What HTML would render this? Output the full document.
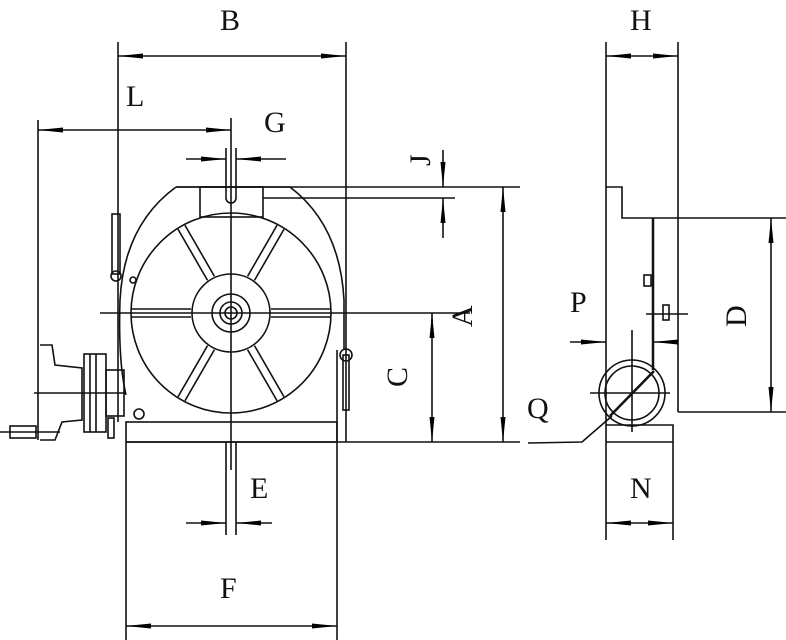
<!DOCTYPE html>
<html><head><style>
html,body{margin:0;padding:0;background:#fff;}
svg{display:block}
text{font-family:"Liberation Serif",serif;font-size:30px;fill:#111;}
</style></head><body>
<svg width="786" height="640" viewBox="0 0 786 640" xmlns="http://www.w3.org/2000/svg">
<defs>
<marker id="a" markerUnits="userSpaceOnUse" markerWidth="26" markerHeight="8" refX="25" refY="4" orient="auto-start-reverse"><path d="M0,1.5 L25,4 L0,6.5 Z" fill="#000"/></marker>
</defs>
<g stroke="#111" stroke-width="1.6" fill="none">
<line x1="118" y1="42" x2="118" y2="422"/>
<line x1="346" y1="42" x2="346" y2="442"/>
<line x1="38" y1="120" x2="38" y2="440"/>
<line x1="231" y1="118" x2="231" y2="470"/>
<line x1="100" y1="313" x2="470" y2="313"/>
<line x1="176" y1="187" x2="520" y2="187"/>
<line x1="263" y1="198" x2="455" y2="198"/>
<line x1="126" y1="442" x2="520" y2="442"/>
<line x1="126" y1="442" x2="126" y2="640"/>
<line x1="337" y1="442" x2="337" y2="640"/>
<line x1="226" y1="442" x2="226" y2="535"/>
<line x1="236" y1="442" x2="236" y2="535"/>
<line x1="118" y1="56" x2="346" y2="56" marker-start="url(#a)" marker-end="url(#a)"/>
<line x1="38" y1="130" x2="231" y2="130" marker-start="url(#a)" marker-end="url(#a)"/>
<line x1="186" y1="159" x2="226" y2="159" marker-end="url(#a)"/>
<line x1="286" y1="159" x2="236" y2="159" marker-end="url(#a)"/>
<line x1="443" y1="150" x2="443" y2="187" marker-end="url(#a)"/>
<line x1="443" y1="238" x2="443" y2="198" marker-end="url(#a)"/>
<line x1="503" y1="187" x2="503" y2="442" marker-start="url(#a)" marker-end="url(#a)"/>
<line x1="432" y1="313" x2="432" y2="442" marker-start="url(#a)" marker-end="url(#a)"/>
<line x1="186" y1="523" x2="226" y2="523" marker-end="url(#a)"/>
<line x1="272" y1="523" x2="236" y2="523" marker-end="url(#a)"/>
<line x1="126" y1="626" x2="337" y2="626" marker-start="url(#a)" marker-end="url(#a)"/>
<path d="M176,187 L290,187 Q340,225 344,300 L344,350 M176,187 Q124,225 120,300 Q118,360 126,395"/>
<line x1="337" y1="350" x2="337" y2="442"/>
<rect x="126" y="422" width="211" height="20"/>
<rect x="200" y="187" width="63" height="30"/>
<path d="M226,148 L226,198 A5,5 0 0 0 236,198 L236,148"/>
<circle cx="231" cy="313" r="100"/>
<circle cx="231" cy="313" r="39"/>
<circle cx="231" cy="313" r="19"/>
<circle cx="231" cy="313" r="11"/>
<circle cx="231" cy="313" r="6"/>
<g id="s">
<line x1="271" y1="309" x2="330" y2="309"/><line x1="271" y1="317" x2="330" y2="317"/>
</g>
<use href="#s" transform="rotate(180 231 313)"/>
<use href="#s" transform="rotate(60 231 313)"/>
<use href="#s" transform="rotate(120 231 313)"/>
<use href="#s" transform="rotate(-60 231 313)"/>
<use href="#s" transform="rotate(-120 231 313)"/>
<rect x="112" y="214" width="8" height="60"/>
<circle cx="116" cy="276" r="5"/><circle cx="133" cy="280" r="3"/>
<rect x="343" y="355" width="6" height="55"/><circle cx="346" cy="355" r="6"/>
<circle cx="139" cy="414" r="5"/>
<path d="M40,345 L52,345 L55,365 L82,368 L82,420 L62,422 L55,440 L40,440"/>
<rect x="84" y="354" width="22" height="78"/>
<line x1="90" y1="354" x2="90" y2="432"/><line x1="96" y1="354" x2="96" y2="432"/>
<rect x="106" y="370" width="18" height="46"/>
<rect x="108" y="418" width="6" height="20"/>
<rect x="10" y="426" width="26" height="12"/>
<line x1="0" y1="432" x2="60" y2="432"/>
<line x1="34" y1="393" x2="126" y2="393"/>
<line x1="606" y1="42" x2="606" y2="540"/>
<line x1="678" y1="42" x2="678" y2="218"/>
<line x1="606" y1="56" x2="678" y2="56" marker-start="url(#a)" marker-end="url(#a)"/>
<path d="M606,187 L622,187 L622,218 L786,218"/>
<line x1="678" y1="218" x2="678" y2="412"/>
<line x1="678" y1="412" x2="786" y2="412"/>
<line x1="771" y1="218" x2="771" y2="412" marker-start="url(#a)" marker-end="url(#a)"/>
<line x1="653" y1="218" x2="653" y2="370" stroke-width="2.5"/>
<rect x="644" y="275" width="7" height="11"/>
<rect x="663" y="305" width="6" height="15"/><line x1="646" y1="314" x2="688" y2="314"/>
<line x1="570" y1="342" x2="606" y2="342" marker-end="url(#a)"/>
<line x1="670" y1="342" x2="653" y2="342" marker-end="url(#a)"/>
<line x1="632" y1="330" x2="632" y2="432"/>
<line x1="590" y1="393" x2="670" y2="393"/>
<circle cx="632" cy="393" r="33"/><circle cx="632" cy="393" r="27"/>
<line x1="610" y1="416" x2="654" y2="371" stroke-width="2.5"/>
<path d="M606,425 L673,425 L673,442 M606,442 L673,442"/>
<path d="M612,416 L582,442 L528,443"/>
<line x1="606" y1="523" x2="673" y2="523" marker-start="url(#a)" marker-end="url(#a)"/>
<line x1="673" y1="442" x2="673" y2="540"/>
</g>
<text x="220" y="30">B</text>
<text x="126" y="106">L</text>
<text x="264" y="132">G</text>
<text x="630" y="30">H</text>
<text x="570" y="312">P</text>
<text x="527" y="418">Q</text>
<text x="250" y="498">E</text>
<text x="220" y="598">F</text>
<text x="630" y="498">N</text>
<text transform="translate(430,166) rotate(-90)">J</text>
<text transform="translate(472,327) rotate(-90)">A</text>
<text transform="translate(407,387) rotate(-90)">C</text>
<text transform="translate(746,327) rotate(-90)">D</text>
</svg>
</body></html>
